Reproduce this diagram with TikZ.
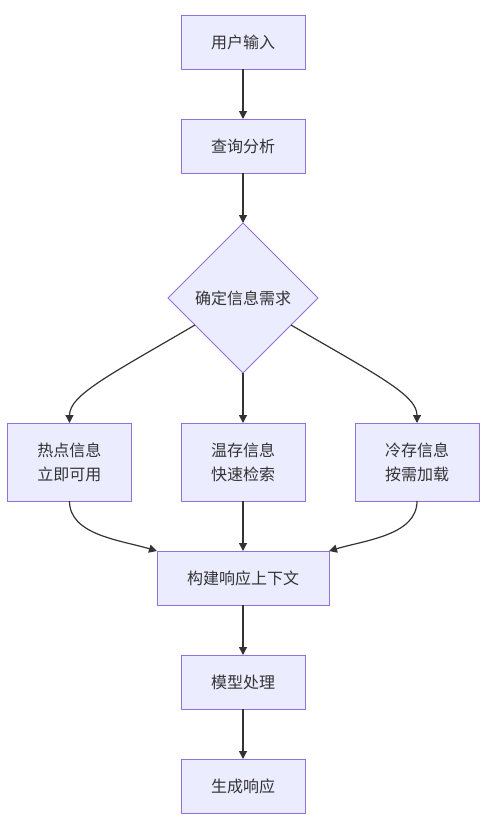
\documentclass[tikz,border=0pt]{standalone}
\usepackage{fontspec}
\setmainfont{Noto Sans CJK SC}
\usetikzlibrary{shapes.geometric,arrows.meta,calc}
\definecolor{nodefill}{HTML}{ECECFF}
\definecolor{nodestroke}{HTML}{9370DB}
\definecolor{ink}{HTML}{333333}
\begin{document}
\begin{tikzpicture}[x=1pt,y=-1pt,
  box/.style={draw=nodestroke,fill=nodefill,line width=1pt,minimum width=124pt,minimum height=54pt,inner sep=0pt,outer sep=0pt,text=ink,font=\fontsize{16}{24}\selectfont,align=center},
  tallbox/.style={box,minimum height=78pt},
  widebox/.style={box,minimum width=172pt},
  decision/.style={diamond,aspect=1,draw=nodestroke,fill=nodefill,line width=1pt,minimum width=150pt,minimum height=150pt,inner sep=0pt,outer sep=0pt,text=ink,font=\fontsize{16}{24}\selectfont},
  conn/.style={draw=ink,line width=1.2pt,-{Triangle[length=8pt,width=8pt]}}]
\useasboundingbox[fill=white] (0,0) rectangle (486,820);
\node[box] (input) at (243,42) {用户输入};
\node[box] (query) at (243,146) {查询分析};
\node[decision] (need) at (243,298) {确定信息需求};
\node[tallbox] (hot) at (69.5,462) {热点信息\\立即可用};
\node[tallbox] (warm) at (243,462) {温存信息\\快速检索};
\node[tallbox] (cold) at (417,462) {冷存信息\\按需加载};
\node[widebox] (ctx) at (243,578) {构建响应上下文};
\node[box] (model) at (243,682) {模型处理};
\node[box] (gen) at (243,786) {生成响应};
\coordinate (dl) at ($(need.west)!0.36!(need.south)$);
\coordinate (dr) at ($(need.east)!0.36!(need.south)$);
\draw[conn] (input.south) -- (query.north);
\draw[conn] (query.south) -- (need.north);
\draw[conn] (dl) .. controls ($(hot.north)+(40,-48)$) and ($(hot.north)+(0,-28)$) .. (hot.north);
\draw[conn] (need.south) -- (warm.north);
\draw[conn] (dr) .. controls ($(cold.north)+(-40,-48)$) and ($(cold.north)+(0,-28)$) .. (cold.north);
\draw[conn] (hot.south) .. controls ($(hot.south)+(0,34)$) and ($(ctx.north west)+(-37,-11)$) .. (ctx.north west);
\draw[conn] (warm.south) -- (ctx.north);
\draw[conn] (cold.south) .. controls ($(cold.south)+(0,34)$) and ($(ctx.north east)+(37,-11)$) .. (ctx.north east);
\draw[conn] (ctx.south) -- (model.north);
\draw[conn] (model.south) -- (gen.north);
\end{tikzpicture}
\end{document}
